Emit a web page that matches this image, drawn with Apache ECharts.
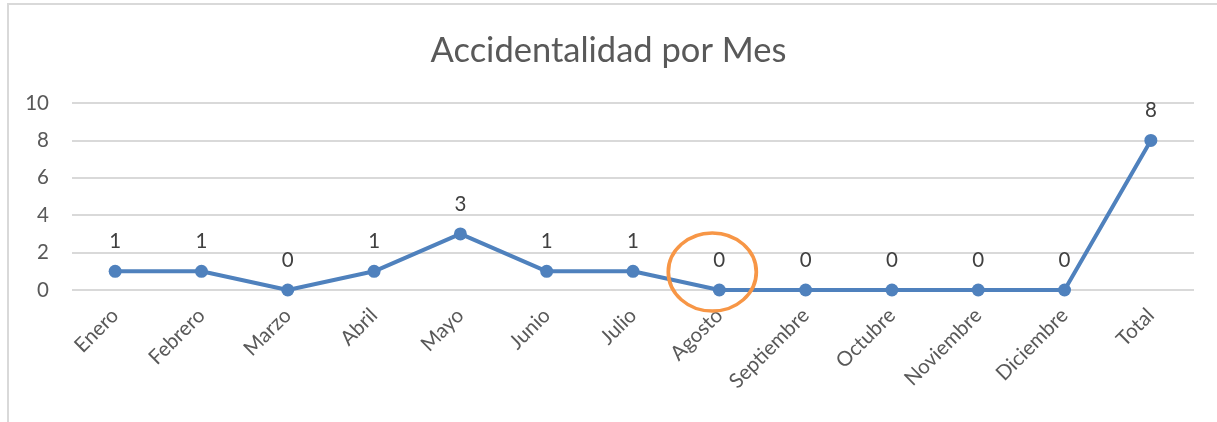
<!DOCTYPE html>
<html><head><meta charset="utf-8">
<script src="https://cdn.jsdelivr.net/npm/echarts@6/dist/echarts.min.js"></script>
<style>html,body{margin:0;padding:0;background:#fff}#c{width:1217px;height:422px}</style>
</head><body><div id="c"></div>
<script>
const categories = ['Enero','Febrero','Marzo','Abril','Mayo','Junio','Julio','Agosto','Septiembre','Octubre','Noviembre','Diciembre','Total'];
const values = [1,1,0,1,3,1,1,0,0,0,0,0,8];
const yTicks = [0,2,4,6,8,10];
const highlighted = 'Agosto';
const FONT = 'Lato, "Liberation Sans", sans-serif';
const chart = echarts.init(document.getElementById('c'));
chart.setOption({
  animation: false,
  title: {text: 'Accidentalidad por Mes', left: 'center', top: 28,
    textStyle: {fontFamily: FONT, fontSize: 34.5, fontWeight: 'normal', color: '#595959'}},
  graphic: [{type: 'rect', shape: {x: 8, y: 4, width: 1400, height: 600},
    style: {fill: 'none', stroke: '#d9d9d9', lineWidth: 2}, silent: true}],
  grid: {left: 72, right: 23, top: 103, bottom: 132},
  xAxis: {type: 'category', data: categories, boundaryGap: true,
    axisLine: {show: false}, axisTick: {show: false},
    axisLabel: {rotate: 45, fontFamily: FONT, fontSize: 20.5, color: '#595959', margin: 22}},
  yAxis: {type: 'value', min: yTicks[0], max: yTicks[yTicks.length-1], interval: 2,
    axisLine: {show: false}, axisTick: {show: false},
    axisLabel: {fontFamily: FONT, fontSize: 20.5, color: '#595959', margin: 23},
    splitLine: {lineStyle: {color: '#d9d9d9', width: 2}}},
  series: [{type: 'line', data: values, symbol: 'circle', symbolSize: 13,
    lineStyle: {color: '#4f81bd', width: 4}, itemStyle: {color: '#4f81bd'},
    label: {show: true, position: 'top', distance: 13, fontFamily: FONT, fontSize: 20.5, color: '#404040'},
    markPoint: {data: [{coord: [highlighted, 0]}], symbol: 'circle', symbolSize: [88, 78],
      symbolOffset: [-7, -18], silent: true,
      itemStyle: {color: 'rgba(0,0,0,0)', borderColor: '#f79646', borderWidth: 3.5},
      label: {show: false}}
  }]
});
</script></body></html>
